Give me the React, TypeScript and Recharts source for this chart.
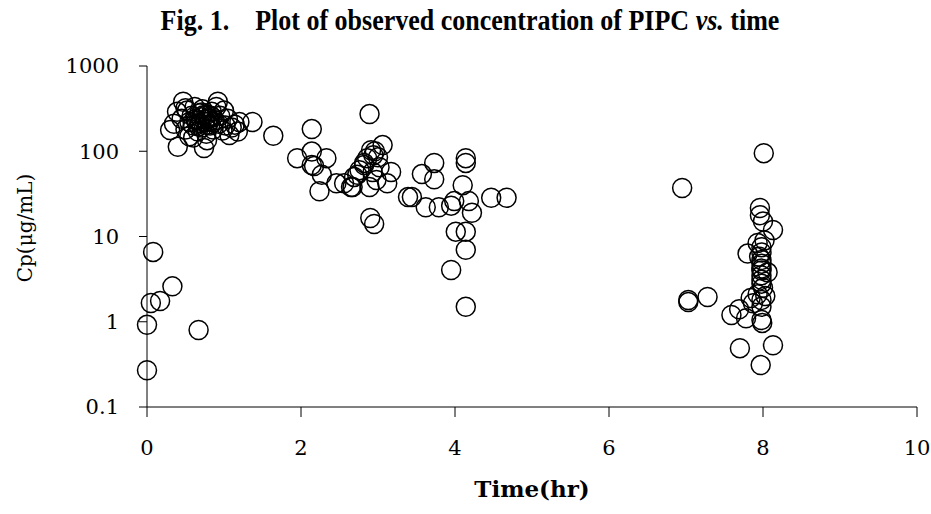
import { Label, Scatter, ScatterChart, XAxis, YAxis } from "recharts";

const times = [
  0.0, 0.0, 0.08, 0.05, 0.17, 0.33, 0.67,
  0.4, 0.3, 0.47, 0.92, 1.37, 1.64, 0.74, 1.2, 0.39, 0.35, 0.45, 0.5, 0.52,
  0.55, 0.58, 0.6, 0.62, 0.64, 0.66, 0.68, 0.7, 0.71, 0.72, 0.75, 0.77, 0.78,
  0.8, 0.82, 0.84, 0.86, 0.88, 0.9, 0.93, 0.95, 0.98, 1.0, 1.02, 1.05, 1.07,
  1.1, 1.14, 1.18, 0.55, 0.65, 0.85, 0.6, 0.78, 0.5,
  0.63, 0.69, 0.73, 0.76, 0.79, 0.83, 0.87, 0.67, 0.71, 0.81,
  1.95, 2.14, 2.14, 2.14, 2.17, 2.27, 2.24, 2.33, 2.46, 2.65, 2.73, 2.82,
  2.89, 3.06, 2.91, 2.86, 2.82, 2.76, 2.69, 2.56, 2.67, 2.89, 3.12, 3.17,
  3.02, 2.93, 2.98, 2.9, 2.95, 2.94, 2.96, 3.0,
  3.39, 3.44, 3.57, 3.73, 3.73, 3.62, 3.79, 3.95, 3.99, 4.14, 4.14, 4.1,
  4.18, 4.22, 4.47, 4.67, 4.01, 4.14, 4.14, 3.95, 4.14,
  6.95, 7.03, 7.03, 7.28, 7.59, 7.69, 7.7, 7.78, 7.8, 7.87, 7.93, 7.84,
  8.01, 7.97, 8.13, 7.96, 7.96, 8.13, 7.93, 7.98, 7.98, 7.98, 7.98, 7.98,
  7.98, 8.06, 7.98, 7.98, 7.98, 8.0, 8.03, 7.98, 7.98, 7.98, 7.99, 8.0,
  8.02, 7.95,
];

const concentrations = [
  0.27, 0.92, 6.6, 1.66, 1.75, 2.6, 0.8,
  113, 177, 381, 381, 220, 152, 109, 220, 290, 210, 240, 180, 300,
  150, 260, 200, 330, 230, 170, 280, 250, 190, 310, 220, 160, 270,
  240, 200, 290, 180, 230, 330, 210, 260, 175, 300, 200, 240, 155,
  190, 205, 170, 220, 210, 250, 145, 135, 320,
  240, 215, 265, 235, 205, 260, 220, 195, 285, 225,
  83, 182, 99, 69, 67, 53, 34, 83, 42, 38, 53, 69,
  273, 118, 103, 83, 73, 60, 50, 42, 38, 38, 42, 57,
  65, 57, 46, 16.5, 14, 90, 100, 85,
  29, 29, 54, 73, 47, 22, 22, 23, 26, 83, 73, 40,
  26, 19, 28.5, 28.5, 11.4, 11.4, 7, 4.05, 1.5,
  37, 1.8, 1.7, 1.95, 1.2, 1.4, 0.49, 1.1, 6.3, 1.65, 2.1, 1.9,
  95, 0.31, 0.53, 21.6, 17.8, 11.9, 8.4, 7.5, 6.5, 5.3, 4.8, 4.2,
  4.0, 3.8, 3.5, 3.1, 2.8, 2.5, 2.0, 1.8, 1.5, 1.05, 0.97, 15,
  9, 5.8,
];

const xTicks = [0, 2, 4, 6, 8, 10];
const yTicks = [0.1, 1, 10, 100, 1000];

const points = times.map((t, i) => ({ t, cp: concentrations[i] }));

const tickStyle = { fontFamily: "DejaVu Serif", fontSize: 21, fill: "#000" };

const OpenCircle = (props: any) => (
  <circle
    cx={props.cx}
    cy={props.cy}
    r={9.5}
    fill="none"
    stroke="#000"
    strokeWidth={1.5}
  />
);

const YTitle = () => (
  <text
    x={25}
    y={228}
    transform="rotate(-90 25 228)"
    textAnchor="middle"
    dominantBaseline="central"
    fontFamily="DejaVu Serif"
    fontSize={20}
    fill="#000"
  >
    Cp(μg/mL)
  </text>
);

export default function App() {
  return (
    <div
      style={{
        position: "absolute",
        left: 0,
        top: 0,
        width: 931,
        height: 514,
        background: "#fff",
      }}
    >
      <div
        style={{
          position: "absolute",
          top: 6,
          left: 0,
          width: 940,
          textAlign: "center",
          fontFamily: "Liberation Serif",
          fontWeight: "bold",
          fontSize: 26,
          whiteSpace: "pre",
          transform: "scaleY(1.12)",
        }}
      >
        Fig. 1.    Plot of observed concentration of PIPC <i>vs.</i> time
      </div>
      <ScatterChart
        width={931}
        height={514}
        margin={{ top: 66, right: 14, bottom: 7, left: 0 }}
      >
        <XAxis
          type="number"
          dataKey="t"
          domain={[0, 10]}
          ticks={xTicks}
          height={100}
          stroke="#000"
          tickSize={10}
          tickMargin={23}
          tick={tickStyle}
        >
          <Label
            value="Time(hr)"
            position="insideBottom"
            offset={10}
            style={{
              fontFamily: "DejaVu Serif",
              fontWeight: "bold",
              fontSize: 23,
              fill: "#000",
            }}
          />
        </XAxis>
        <YAxis
          type="number"
          dataKey="cp"
          scale="log"
          domain={[0.1, 1000]}
          ticks={yTicks}
          width={147}
          stroke="#000"
          tickSize={8}
          tickMargin={20}
          tick={tickStyle}
        >
          <Label content={YTitle} />
        </YAxis>
        <Scatter
          data={points}
          shape={OpenCircle}
          isAnimationActive={false}
        />
      </ScatterChart>
    </div>
  );
}
